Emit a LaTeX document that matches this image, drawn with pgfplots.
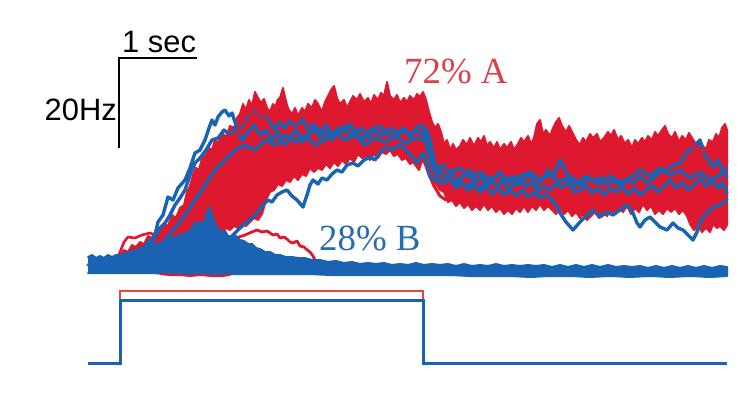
\documentclass[border=0pt]{standalone}
\usepackage{pgfplots}
\pgfplotsset{compat=1.18}
\usepackage{fontspec}
\setmainfont{Liberation Serif}
\newfontfamily\arial{Liberation Sans}
\definecolor{tred}{RGB}{222,24,46}
\definecolor{tblue}{RGB}{26,98,178}
\definecolor{lred}{RGB}{222,62,72}
\definecolor{lblue}{RGB}{40,108,176}
\definecolor{sred}{RGB}{232,70,60}
\begin{document}
\begin{tikzpicture}
\begin{axis}[scale only axis, width=750bp, height=419bp,
  xmin=0, xmax=750, ymin=0, ymax=419, y dir=reverse,
  hide axis, clip=false,
  every axis plot/.append style={line join=round, line cap=round}]
\addplot[draw=none] coordinates {(0,0) (750,419)};
% red mass (A trials)
\addplot[fill=tred, draw=tred, line width=2bp] coordinates {
(120,256)(124,250)(128,252)(132,245)(136,247)(140,242)(144,244)(148,236)(152,238)(156,230)(160,233)(164,224)(168,226)(172,215)(176,218)(180,208)(184,205)(187,192)(190,186)(193,175)(196,168)(199,170)(202,158)(206,155)(209,148)(212,150)(215,140)(218,143)(222,133)(226,137)(230,126)(234,128)(237,118)(240,114)(243,104)(246,110)(249,100)(252,106)(255,92)(258,98)(261,103)(264,99)(267,108)(270,112)(273,104)(276,108)(280,98)(283,88)(286,104)(289,110)(292,114)(295,108)(298,116)(302,108)(305,112)(308,104)(312,108)(315,100)(318,104)(322,112)(325,102)(328,96)(331,90)(334,86)(337,98)(340,104)(344,100)(347,108)(350,102)(353,96)(357,100)(360,94)(364,102)(368,98)(371,104)(374,95)(378,100)(381,93)(384,96)(387,82)(390,96)(394,100)(397,95)(400,103)(404,98)(407,102)(410,96)(414,100)(417,94)(420,97)(423,92)(426,100)(429,112)(432,122)(435,128)(438,124)(441,132)(444,144)(447,140)(450,150)(453,144)(456,150)(460,146)(463,140)(467,145)(470,138)(474,146)(478,138)(481,142)(484,136)(487,146)(490,142)(494,148)(497,142)(500,150)(504,144)(507,148)(511,142)(514,150)(518,144)(521,138)(524,142)(528,136)(531,144)(534,138)(537,124)(540,120)(543,134)(546,130)(550,136)(553,128)(556,122)(559,118)(562,126)(566,132)(569,126)(573,134)(576,140)(580,145)(583,138)(586,142)(590,134)(593,138)(597,134)(600,142)(604,138)(608,132)(611,136)(614,130)(618,140)(621,136)(625,144)(628,140)(632,148)(635,140)(638,144)(642,138)(645,142)(648,136)(652,140)(655,132)(658,136)(662,130)(665,126)(668,134)(672,138)(675,132)(679,142)(682,136)(686,140)(689,133)(692,138)(696,144)(699,140)(703,146)(706,150)(709,140)(713,142)(716,134)(719,138)(722,128)(725,124)(727,130)
(727,225)(724,230)(720,226)(717,228)(713,224)(710,232)(706,228)(702,232)(698,226)(694,230)(690,224)(687,216)(683,210)(679,214)(675,208)(671,212)(667,208)(663,214)(659,210)(655,214)(651,206)(647,210)(643,204)(639,212)(635,208)(631,214)(627,206)(623,212)(619,208)(615,214)(611,210)(607,216)(603,212)(599,218)(595,212)(591,216)(587,220)(583,214)(580,218)(576,212)(572,216)(568,210)(564,214)(560,208)(556,214)(552,210)(548,206)(544,210)(540,204)(536,210)(532,206)(528,212)(524,206)(520,212)(516,208)(512,214)(508,210)(504,214)(500,208)(496,212)(492,206)(488,210)(484,204)(480,210)(476,206)(472,210)(468,204)(464,208)(460,202)(456,206)(452,200)(448,202)(444,192)(440,190)(436,184)(432,180)(428,170)(425,164)(422,160)(419,170)(416,166)(413,162)(410,164)(406,158)(402,160)(398,154)(394,156)(390,150)(386,154)(382,152)(378,158)(374,154)(370,160)(366,156)(362,158)(358,154)(354,162)(350,158)(346,164)(342,160)(338,166)(334,162)(330,168)(326,164)(322,170)(318,168)(314,172)(310,168)(306,176)(302,174)(298,180)(294,176)(290,182)(286,180)(282,186)(278,184)(274,190)(270,192)(266,200)(262,214)(258,220)(254,218)(250,222)(246,226)(242,224)(238,228)(234,226)(230,230)(226,228)(222,232)(218,230)(215,236)(212,240)(208,246)(204,248)(200,252)(195,254)(190,256)(185,258)(180,260)(170,262)(160,264)(150,264)(140,264)(130,262)(120,262)};
% red line texture
\addplot[tred, line width=3bp] coordinates {(150,262)(160,258)(170,255)(180,250)(190,245)(200,240)(206,232)(212,236)(218,224)(224,226)(230,218)(236,220)(242,210)(248,212)(254,200)(260,196)(266,184)(272,186)(278,176)(284,178)(290,170)(296,172)(302,164)(308,166)(314,158)(320,160)(326,152)(332,156)(338,150)(344,154)(350,146)(356,150)(362,144)(368,148)(374,142)(380,146)(386,140)(392,144)(398,138)(404,142)(410,136)(416,140)(420,150)(424,160)(428,172)(434,186)(440,196)(446,200)(452,194)(458,200)(464,196)(470,202)(476,198)(482,204)(488,198)(494,204)(500,200)(506,206)(512,200)(518,204)(524,198)(530,204)(536,200)(542,205)(548,200)(554,204)(560,200)(566,206)(572,210)(578,206)(584,212)(590,206)(596,210)(602,206)(608,210)(614,204)(620,208)(626,202)(632,206)(638,200)(644,204)(650,198)(656,204)(662,200)(668,206)(674,202)(680,206)(686,212)(692,218)(698,222)(704,224)(710,222)(716,226)(722,222)(727,222)};
\addplot[tred, line width=2.6bp] coordinates {(115,262)(120,252)(124,242)(128,237)(135,238)(142,235)(150,233)(158,236)(166,232)(172,226)(178,220)};
% red B trials
\addplot[tred, line width=2.8bp] coordinates {(120,262)(140,258)(160,255)(180,252)(200,250)(215,245)(230,240)(245,235)(252,232)(257,230)(262,232)(267,231)(273,235)(277,234)(280,238)(284,237)(287,239)(290,242)(293,243)(297,241)(300,246)(304,247)(306,249)(310,252)(313,256)(316,262)(322,265)(330,266)};
% blue B band
\addplot[fill=tblue, draw=tblue, line width=2bp] coordinates {
(88,257)(92,255)(96,258)(100,256)(104,258)(108,255)(112,257)(116,255)(120,256)(124,253)(128,254)(132,250)(135,251)(140,248)(144,249)(148,245)(152,246)(156,243)(160,244)(164,240)(168,241)(172,237)(176,238)(180,234)(184,235)(188,231)(192,229)(195,222)(198,226)(201,221)(204,224)(207,213)(209,207)(212,214)(215,224)(218,228)(222,233)(225,231)(228,236)(232,237)(236,236)(240,240)(244,241)(248,244)(252,244)(256,248)(260,249)(265,252)(270,252)(275,255)(280,255)(286,257)(292,257)(298,258)(305,258)(312,260)(320,260)(328,262)(336,261)(344,263)(352,262)(360,264)(368,263)(376,264)(384,263)(392,265)(400,264)(408,265)(416,263)(424,265)(432,264)(440,265)(448,264)(456,266)(464,264)(472,266)(480,265)(488,266)(496,264)(504,266)(512,265)(520,266)(528,265)(536,266)(544,265)(552,267)(560,265)(568,267)(576,265)(584,267)(592,265)(600,267)(608,265)(616,267)(624,266)(632,267)(640,266)(648,268)(656,266)(664,268)(672,266)(680,268)(688,266)(696,268)(704,266)(712,268)(720,266)(727,267)
(727,276)(710,277)(690,276)(670,277)(650,276)(630,277)(610,276)(590,277)(570,276)(550,276)(530,277)(510,276)(490,276)(470,276)(450,275)(430,275)(410,275)(390,275)(370,275)(350,275)(330,275)(310,274)(290,274)(270,274)(250,274)(230,274)(210,274)(190,274)(170,274)(150,273)(130,273)(110,273)(88,273)};
\addplot[tred, line width=2bp] coordinates {(160,274)(170,275)(180,275)(190,276)(200,275)(212,276)(222,276)(230,275)};
% blue A trials
\addplot[tblue, line width=3.4bp] coordinates {(88,265)(100,263)(110,264)(120,262)(128,258)(135,255)(142,250)(150,245)(155,235)(158,222)(163,215)(168,197)(173,200)(178,188)(185,180)(190,168)(195,153)(200,150)(205,140)(209,128)(212,120)(215,125)(218,117)(222,112)(225,110)(229,116)(232,113)(235,122)(238,130)(242,126)(245,120)(250,115)(255,110)(260,116)(265,113)(270,122)(275,130)(280,122)(285,128)(290,120)(296,126)(302,118)(308,130)(314,124)(320,133)(326,125)(332,135)(338,128)(344,132)(350,124)(356,133)(362,128)(368,138)(374,130)(380,126)(386,134)(392,128)(398,135)(404,130)(410,137)(416,128)(421,125)(425,132)(428,150)(432,165)(436,175)(440,170)(446,178)(452,172)(458,182)(464,175)(470,170)(476,182)(482,176)(488,185)(494,178)(500,172)(506,183)(512,176)(518,185)(524,180)(530,174)(536,186)(542,180)(548,170)(554,175)(560,160)(566,172)(573,187)(580,180)(587,176)(594,182)(600,177)(607,185)(613,180)(620,186)(627,180)(633,183)(640,176)(647,183)(653,178)(660,172)(667,170)(673,165)(680,163)(687,152)(693,148)(700,140)(705,155)(710,162)(713,167)(718,160)(722,170)(727,177)};
\addplot[tblue, line width=3.4bp] coordinates {(120,262)(130,258)(140,252)(150,240)(155,237)(160,228)(165,223)(170,215)(175,205)(180,198)(185,190)(190,175)(195,163)(200,158)(206,150)(212,140)(218,138)(224,130)(230,135)(236,128)(242,140)(248,132)(254,125)(260,135)(266,130)(272,140)(278,132)(284,145)(290,138)(296,130)(302,142)(308,136)(314,128)(320,138)(326,132)(332,140)(338,133)(344,126)(350,135)(356,130)(362,140)(368,132)(374,128)(380,136)(386,130)(392,138)(398,132)(404,128)(410,135)(416,130)(422,135)(426,128)(430,140)(434,160)(438,178)(443,183)(448,176)(454,185)(460,180)(466,188)(472,182)(478,190)(484,183)(490,178)(496,186)(502,180)(508,190)(514,184)(520,178)(526,187)(532,182)(538,192)(544,186)(550,190)(556,183)(562,188)(568,182)(574,192)(580,190)(586,185)(592,193)(598,188)(604,195)(610,188)(616,192)(622,186)(628,194)(634,188)(640,195)(646,190)(652,185)(658,192)(664,186)(670,180)(676,188)(682,182)(688,190)(694,185)(700,178)(706,186)(712,180)(718,188)(722,182)(727,193)};
\addplot[tblue, line width=3.4bp] coordinates {(120,263)(140,262)(160,260)(180,258)(200,255)(210,250)(220,245)(230,238)(240,228)(247,222)(253,217)(258,212)(263,205)(268,200)(272,202)(277,195)(282,192)(287,190)(292,196)(297,200)(303,207)(307,195)(310,185)(313,180)(318,184)(322,178)(327,180)(332,174)(337,170)(342,172)(347,165)(353,163)(358,166)(364,160)(370,157)(375,160)(380,152)(387,147)(392,150)(398,145)(403,147)(408,152)(413,158)(417,163)(420,158)(423,153)(426,160)(430,177)(436,180)(443,183)(450,178)(456,188)(462,182)(468,190)(474,185)(480,192)(486,186)(492,194)(498,188)(504,195)(510,190)(516,196)(522,190)(528,197)(534,192)(540,198)(546,194)(552,200)(556,205)(560,213)(566,222)(573,230)(580,222)(587,215)(593,210)(600,217)(607,212)(613,215)(620,210)(627,205)(633,213)(637,223)(640,227)(645,220)(650,217)(655,222)(660,227)(667,230)(673,223)(678,228)(683,230)(688,235)(693,240)(697,232)(700,222)(703,217)(707,213)(713,207)(720,205)(727,200)};
\addplot[tblue, line width=3.4bp] coordinates {(125,262)(140,258)(155,250)(165,240)(175,228)(185,215)(195,200)(205,185)(215,170)(225,160)(235,150)(245,145)(255,150)(265,140)(275,145)(285,135)(295,142)(305,135)(315,145)(325,140)(335,132)(345,140)(355,135)(365,145)(375,138)(385,142)(395,136)(405,143)(415,138)(425,140)(430,155)(436,170)(442,165)(450,172)(460,168)(470,178)(480,172)(490,180)(500,174)(510,182)(520,176)(530,172)(540,180)(550,175)(560,182)(570,176)(580,185)(590,178)(600,184)(610,176)(620,182)(630,178)(640,170)(650,176)(660,168)(670,175)(680,170)(690,178)(700,172)(710,180)(720,175)(727,168)};
% red line on top
\addplot[tred, line width=2.8bp] coordinates {(200,175)(206,160)(212,165)(218,148)(224,152)(230,135)(236,138)(242,118)(248,125)(254,105)(260,115)(266,112)(272,120)(278,100)(284,95)(290,118)(296,122)(302,115)(308,118)(314,108)(320,114)(326,106)(332,95)(338,108)(344,112)(350,106)(356,112)(362,104)(368,110)(374,104)(380,108)(386,92)(392,106)(398,110)(404,106)(410,112)(416,104)(422,100)(428,120)(434,140)(440,142)(446,155)(452,160)(458,152)(464,158)(470,150)(476,156)(482,148)(488,158)(494,152)(500,160)(506,150)(512,158)(518,152)(524,148)(530,156)(536,142)(542,138)(548,145)(554,140)(560,130)(566,140)(572,142)(578,150)(584,146)(590,142)(596,148)(602,152)(608,144)(614,140)(620,148)(626,152)(632,156)(638,148)(644,152)(650,146)(656,142)(662,144)(668,138)(674,148)(680,152)(686,146)(692,144)(698,152)(704,150)(710,146)(716,142)(722,136)(727,133)};
% stimulus
\addplot[sred, line width=2.4bp, line cap=butt, line join=miter] coordinates {(120,300)(120,291)(423,291)(423,300)};
\addplot[tblue, line width=3bp, line cap=butt, line join=miter] coordinates {(88,363)(120,363)(120,300)(423,300)(423,363)(727,363)};
% scale bar
\addplot[black, line width=2.5bp, line cap=butt, line join=miter] coordinates {(197,58)(119,58)(119,148)};
\node[anchor=base east, font=\arial\fontsize{31}{31}\selectfont, inner sep=0pt] at (axis cs:117,120) {20Hz};
\node[anchor=base west, font=\arial\fontsize{31}{31}\selectfont, inner sep=0pt] at (axis cs:122,53) {1 sec};
\node[anchor=base west, font=\fontsize{37}{37}\selectfont, text=lred, inner sep=0pt] at (axis cs:404,83) {72\% A};
\node[anchor=base west, font=\fontsize{37}{37}\selectfont, text=lblue, inner sep=0pt] at (axis cs:319,250) {28\% B};
\end{axis}
\end{tikzpicture}
\end{document}
